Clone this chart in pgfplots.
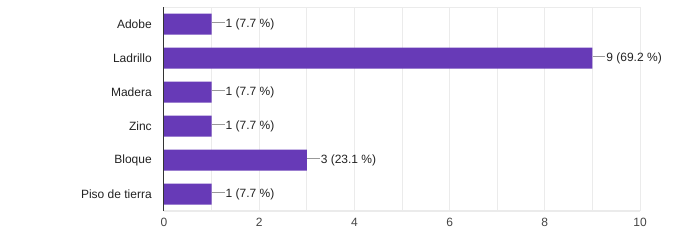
\documentclass[border=0pt]{standalone}
\usepackage{pgfplots}
\pgfplotsset{compat=1.18}
\usepackage{fontspec}
\setmainfont{Liberation Sans}
\definecolor{barc}{HTML}{673AB7}
\definecolor{gridc}{HTML}{EBEBEB}
\definecolor{txt}{HTML}{222222}
\definecolor{tick}{HTML}{444444}
\definecolor{lead}{HTML}{999999}
\begin{document}
\begin{tikzpicture}
\path[use as bounding box] (-123pt,-24pt) rectangle (393pt,158.25pt);
\begin{axis}[
  at={(0,0)}, anchor=south west,
  scale only axis, width=357pt, height=153pt,
  xbar, bar width=15.75pt,
  xmin=0, xmax=10, ymin=-0.5, ymax=5.5,
  xtick={0,2,...,10}, minor xtick={1,3,...,9},
  ytick={0,...,5},
  yticklabels={Piso de tierra,Bloque,Zinc,Madera,Ladrillo,Adobe},
  major tick length=0pt, minor tick length=0pt,
  xmajorgrids, xminorgrids,
  major grid style={gridc, line width=0.75pt},
  minor grid style={gridc, line width=0.75pt},
  axis line style={draw=none},
  font=\fontsize{9}{11}\selectfont,
  /pgf/number format/assume math mode=true,
  xticklabel style={inner sep=0pt, yshift=-5pt, text=tick},
  yticklabel style={inner sep=0pt, xshift=-9pt, text=txt},
  point meta=explicit symbolic,
  nodes near coords,
  every node near coord/.append style={anchor=west, inner sep=0pt, xshift=0pt, text=txt,
    font=\fontsize{9}{11}\selectfont},
  nodes near coords={\textcolor{lead}{\rule[0.33em]{9.5pt}{0.75pt}}\kern0.8pt\pgfplotspointmeta},
  clip=false,
]
\addplot[fill=barc, draw=none] coordinates {
  (1,5) [1 (7.7 \%)]
  (9,4) [9 (69.2 \%)]
  (1,3) [1 (7.7 \%)]
  (1,2) [1 (7.7 \%)]
  (3,1) [3 (23.1 \%)]
  (1,0) [1 (7.7 \%)]
};
\draw[gridc, line width=0.75pt] (axis cs:0,5.5) -- (axis cs:10,5.5);
\draw[gridc, line width=1.5pt] (axis cs:0,-0.5) -- (axis cs:10,-0.5);
\draw[black!80, line width=0.75pt] (axis cs:0,-0.5) -- (axis cs:0,5.5);
\end{axis}
\end{tikzpicture}
\end{document}
